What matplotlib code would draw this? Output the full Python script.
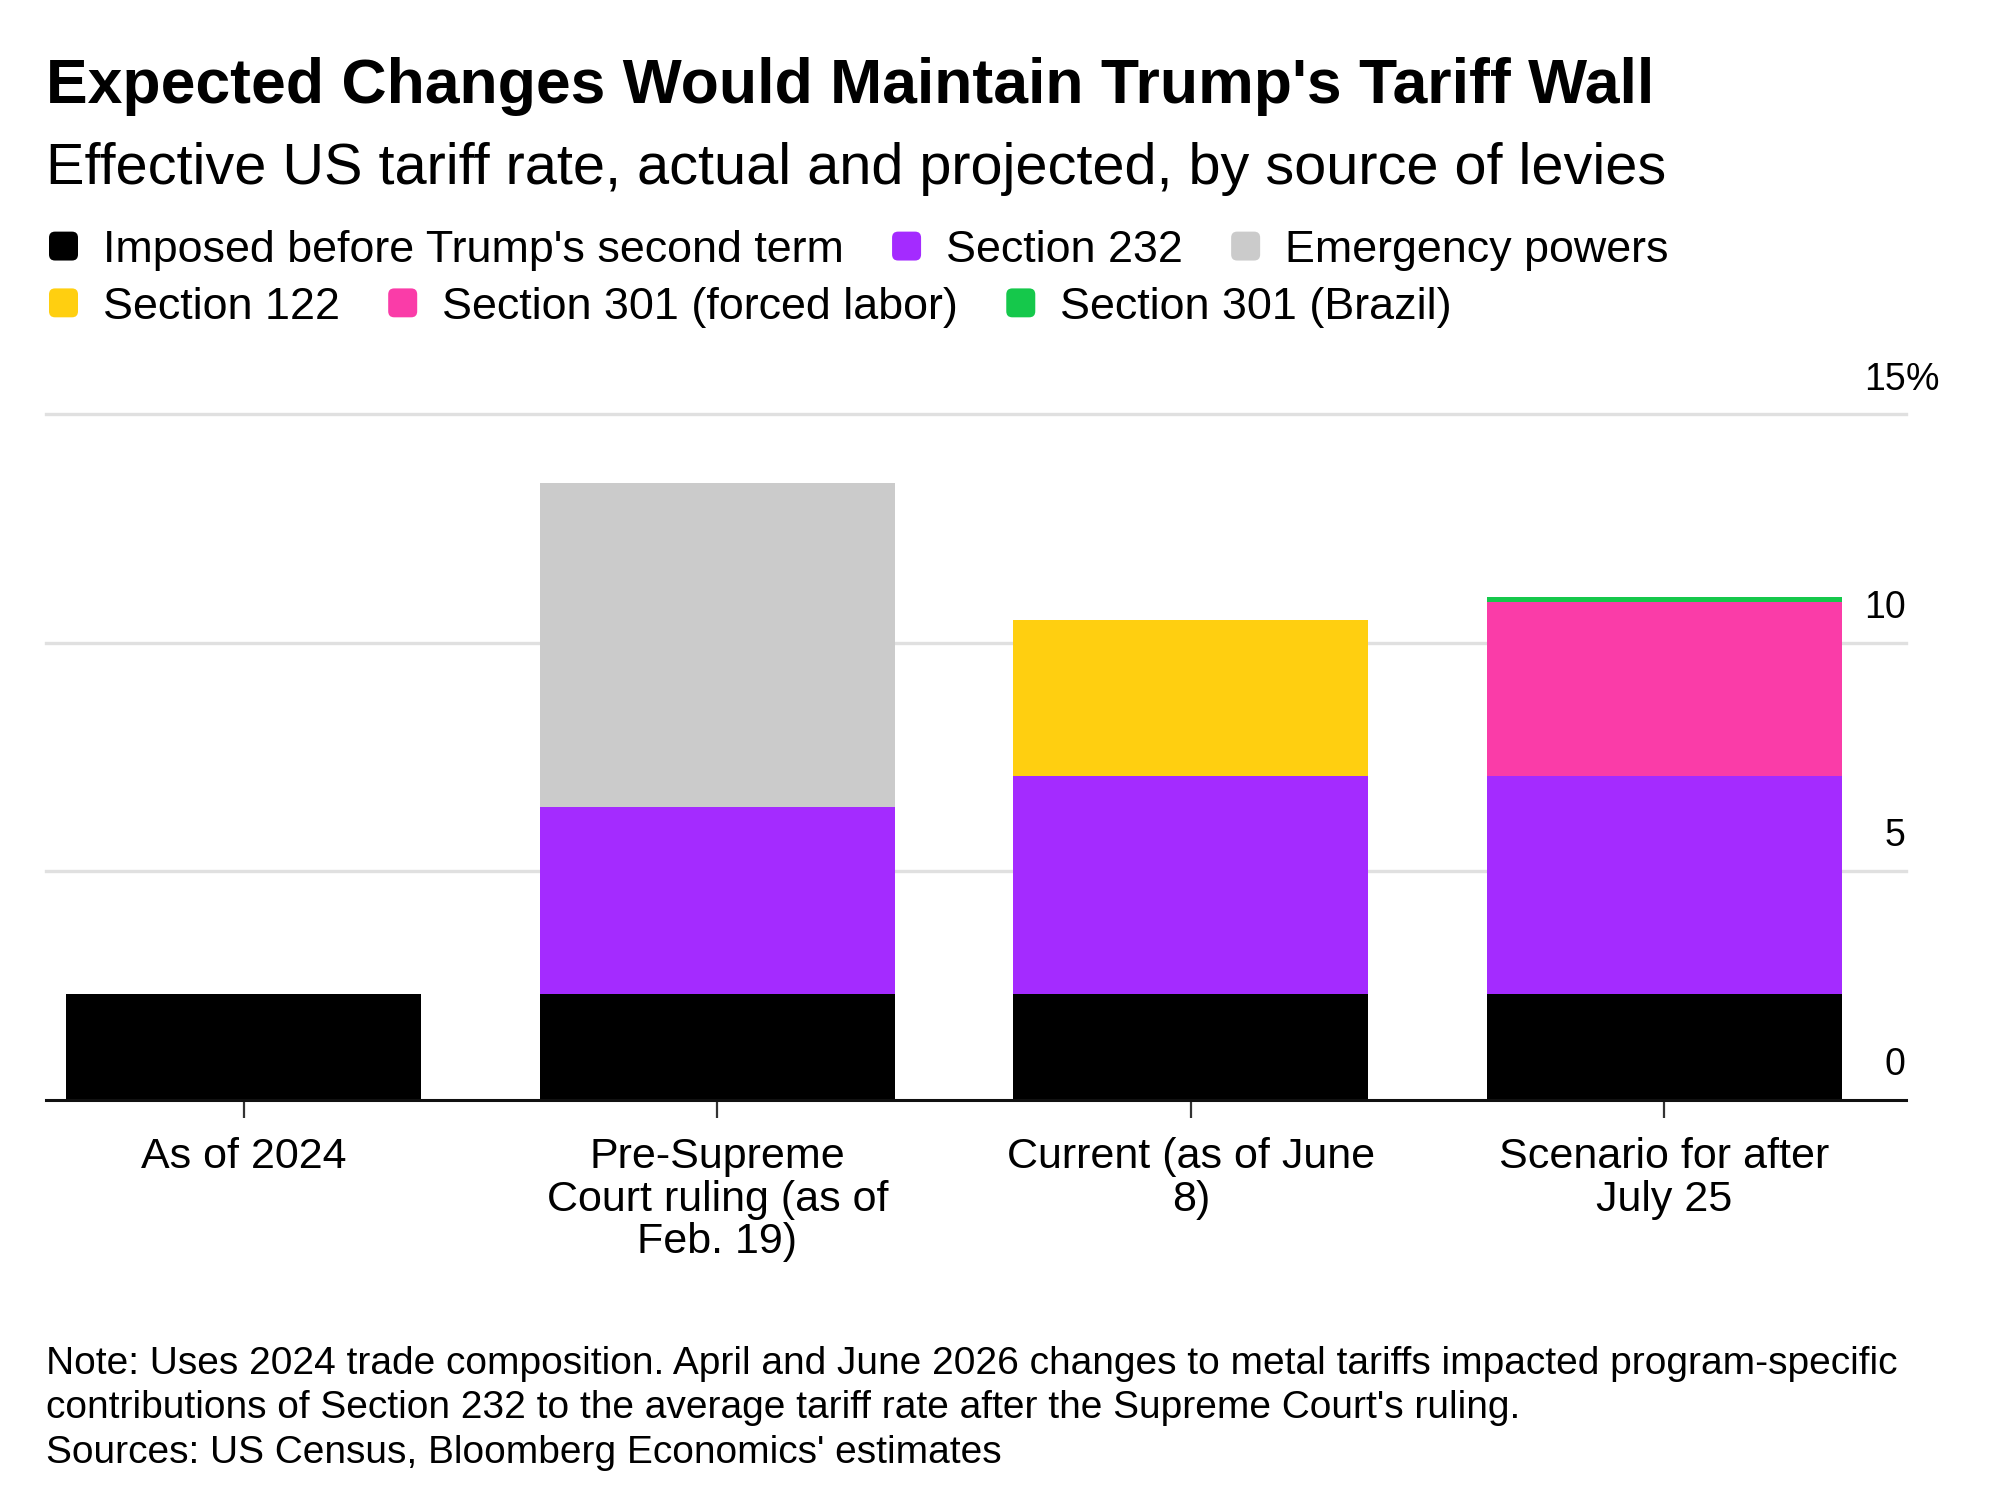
import matplotlib
matplotlib.use("Agg")
import matplotlib.pyplot as plt
from matplotlib.patches import FancyBboxPatch
from matplotlib.transforms import offset_copy

plt.rcParams['font.family'] = ['Liberation Sans', 'DejaVu Sans']

# data (percent of imports)
categories = ["As of 2024", "Pre-Supreme\nCourt ruling (as of\nFeb. 19)",
              "Current (as of June\n8)", "Scenario for after\nJuly 25"]
series_names = ["Imposed before Trump's second term", "Section 232", "Emergency powers",
                "Section 122", "Section 301 (forced labor)", "Section 301 (Brazil)"]
pre_trump = [2.3, 2.3, 2.3, 2.3]
section_232 = [0.0, 4.1, 4.78, 4.78]
emergency = [0.0, 7.1, 0.0, 0.0]
section_122 = [0.0, 0.0, 3.42, 0.0]
section_301_forced = [0.0, 0.0, 0.0, 3.81]
section_301_brazil = [0.0, 0.0, 0.0, 0.12]
colors = ["#000000", "#A42BFF", "#CBCBCB", "#FFCF10", "#FA3CA8", "#15C84B"]
yticks = [0, 5, 10, 15]

fig = plt.figure(figsize=(20, 15.06), dpi=100)

# title block
fig.text(0.0232, 0.9314, "Expected Changes Would Maintain Trump's Tariff Wall",
         fontsize=45, fontweight='bold', va='baseline', ha='left')
fig.text(0.0232, 0.8775, "Effective US tariff rate, actual and projected, by source of levies",
         fontsize=41.5, va='baseline', ha='left')

# legend, laid out as flowing text
renderer = fig.canvas.get_renderer()
rows = [[0, 1, 2], [3, 4, 5]]
row_y = [0.826, 0.7883]
mw, mh = 0.0145, 0.0192
for row, y in zip(rows, row_y):
    x = 0.0245
    for i in row:
        box = FancyBboxPatch((x, y + 0.001), mw, mh, boxstyle="round,pad=0,rounding_size=0.003",
                             transform=fig.transFigure, color=colors[i], lw=0,
                             mutation_aspect=2000 / 1506)
        fig.patches.append(box)
        t = fig.text(x + 0.0271, y, series_names[i], fontsize=32.3, va='baseline', ha='left')
        bb = t.get_window_extent(renderer)
        x = bb.x1 / fig.bbox.width + 0.0240

ax = fig.add_axes([0.0232, 0.2699, 0.9297, 0.4550])
xs = list(range(len(categories)))
stack = [pre_trump, section_232, emergency, section_122, section_301_forced, section_301_brazil]
bottom = [0.0] * len(xs)
for vals, c in zip(stack, colors):
    ax.bar(xs, vals, width=0.75, bottom=bottom, color=c, zorder=3, linewidth=0)
    bottom = [b + v for b, v in zip(bottom, vals)]

ax.set_xlim(-0.417, 3.51)
ax.set_ylim(0, 15)
for v in yticks[1:]:
    ax.axhline(v, color="#E0E0E0", lw=2.4, zorder=1, clip_on=False)
ax.axhline(0, color="#111111", lw=2.2, zorder=4, clip_on=False)

for s in ax.spines.values():
    s.set_visible(False)
ax.set_yticks([])
ax.set_xticks(xs)
ax.set_xticklabels(categories, fontsize=31, linespacing=1.08, va='top')
ax.tick_params(axis='x', length=13, width=1.6, color="#333333", pad=14)

# y labels sit above the gridlines at the right end
trans = offset_copy(ax.get_yaxis_transform(), fig=fig, x=0, y=12, units='points')
for v in yticks:
    ax.text(1.0, v, str(v), transform=trans, ha='right', va='bottom', fontsize=27)
ax.text(1.0, 15, "%", transform=trans, ha='left', va='bottom', fontsize=27)

# notes
notes = ["Note: Uses 2024 trade composition. April and June 2026 changes to metal tariffs impacted program-specific",
         "contributions of Section 232 to the average tariff rate after the Supreme Court's ruling.",
         "Sources: US Census, Bloomberg Economics' estimates"]
for line, y in zip(notes, [0.0874, 0.0583, 0.0283]):
    fig.text(0.0232, y, line, fontsize=28, va='baseline', ha='left')

fig.savefig("out.png", dpi=100, facecolor="white")
